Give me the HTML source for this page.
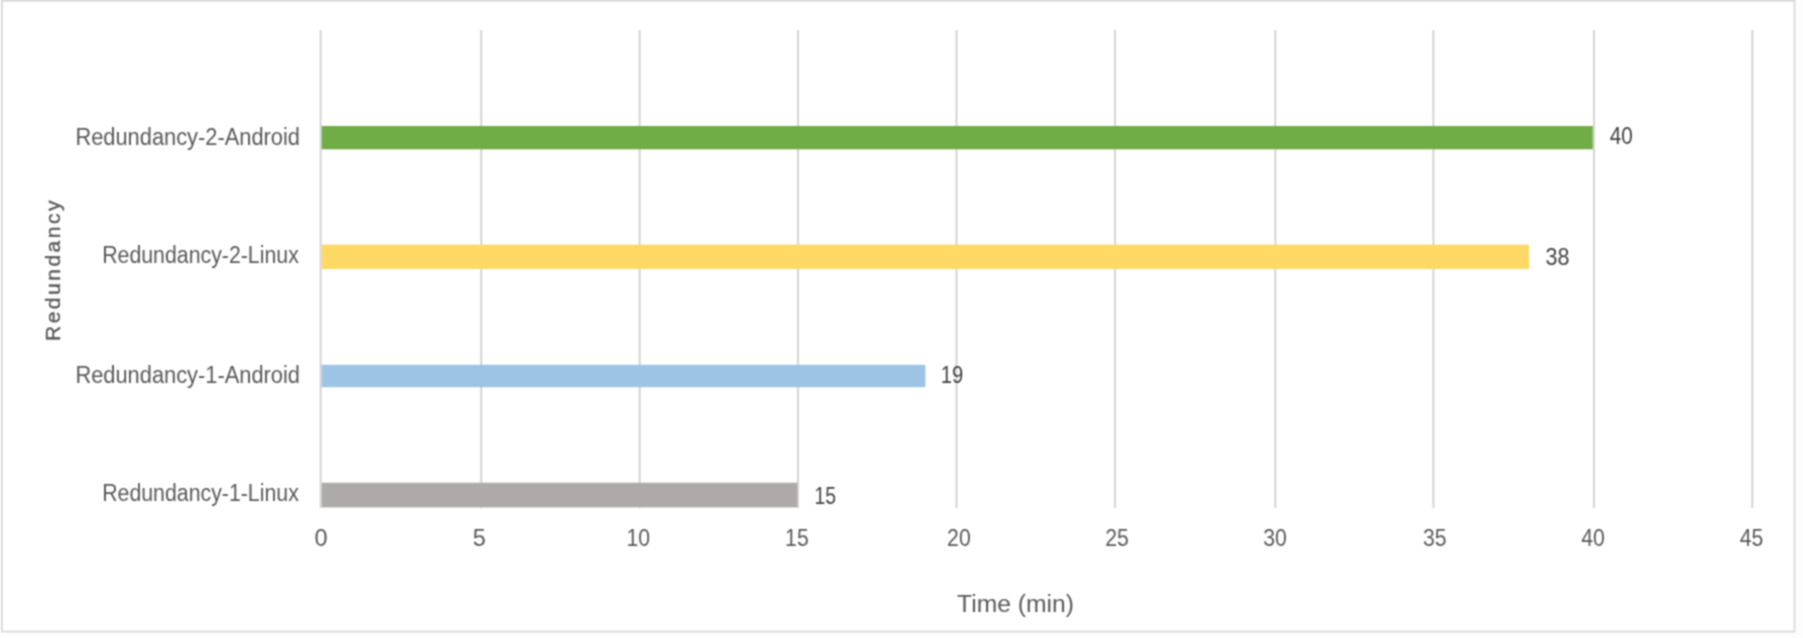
<!DOCTYPE html>
<html><head><meta charset="utf-8"><style>
html,body{margin:0;padding:0;background:#fdfdfd;overflow:hidden;}
svg{display:block;}
text{font-family:"Liberation Sans",sans-serif;font-size:23.5px;}
</style></head><body>
<svg width="1803" height="638" viewBox="0 0 1803 638">
<defs><filter id="b" filterUnits="userSpaceOnUse" x="0" y="0" width="1803" height="638" color-interpolation-filters="sRGB"><feConvolveMatrix order="3" kernelMatrix="0.0625 0.125 0.0625 0.125 0.25 0.125 0.0625 0.125 0.0625" preserveAlpha="true" edgeMode="duplicate"/></filter></defs>
<g filter="url(#b)">
<rect x="0" y="0" width="1803" height="638" fill="#fdfdfd"/>
<rect x="2" y="0.8" width="1792.5" height="630.8" fill="#fff" stroke="#d9d9d9" stroke-width="1.8"/>
<g stroke="#d2d2d2" stroke-width="1.9"><line x1="320.65" y1="30.0" x2="320.65" y2="508.1"/><line x1="481.2" y1="30.0" x2="481.2" y2="508.1"/><line x1="639.65" y1="30.0" x2="639.65" y2="508.1"/><line x1="798.0" y1="30.0" x2="798.0" y2="508.1"/><line x1="956.5" y1="30.0" x2="956.5" y2="508.1"/><line x1="1115.0" y1="30.0" x2="1115.0" y2="508.1"/><line x1="1275.3" y1="30.0" x2="1275.3" y2="508.1"/><line x1="1433.4" y1="30.0" x2="1433.4" y2="508.1"/><line x1="1594.0" y1="30.0" x2="1594.0" y2="508.1"/><line x1="1752.35" y1="30.0" x2="1752.35" y2="508.1"/></g>
<g><rect x="321.6" y="126.0" width="1271.20" height="23.30" fill="#70AD47"/><rect x="321.6" y="244.6" width="1207.50" height="24.50" fill="#FFD966"/><rect x="321.6" y="364.8" width="603.80" height="22.40" fill="#9DC3E6"/><rect x="321.6" y="482.7" width="475.70" height="24.70" fill="#AEAAAA"/></g>
<g fill="#595959"><text x="75.40" y="144.70" textLength="224.60" lengthAdjust="spacingAndGlyphs">Redundancy-2-Android</text><text x="102.20" y="262.70" textLength="196.60" lengthAdjust="spacingAndGlyphs">Redundancy-2-Linux</text><text x="75.40" y="383.30" textLength="224.60" lengthAdjust="spacingAndGlyphs">Redundancy-1-Android</text><text x="102.20" y="500.60" textLength="196.60" lengthAdjust="spacingAndGlyphs">Redundancy-1-Linux</text></g>
<g fill="#404040"><text x="1609.80" y="144.40" textLength="23.00" lengthAdjust="spacingAndGlyphs">40</text><text x="1545.40" y="265.10" textLength="24.00" lengthAdjust="spacingAndGlyphs">38</text><text x="940.80" y="383.20" textLength="22.50" lengthAdjust="spacingAndGlyphs">19</text><text x="814.40" y="503.50" textLength="21.60" lengthAdjust="spacingAndGlyphs">15</text></g>
<g fill="#595959"><text x="321.00" y="546.00" text-anchor="middle">0</text><text x="479.20" y="546.00" text-anchor="middle">5</text><text x="638.30" y="546.00" text-anchor="middle" textLength="23.60" lengthAdjust="spacingAndGlyphs">10</text><text x="796.90" y="546.00" text-anchor="middle" textLength="23.60" lengthAdjust="spacingAndGlyphs">15</text><text x="958.90" y="546.00" text-anchor="middle" textLength="23.60" lengthAdjust="spacingAndGlyphs">20</text><text x="1117.00" y="546.00" text-anchor="middle" textLength="23.60" lengthAdjust="spacingAndGlyphs">25</text><text x="1275.00" y="546.00" text-anchor="middle" textLength="23.60" lengthAdjust="spacingAndGlyphs">30</text><text x="1434.70" y="546.00" text-anchor="middle" textLength="23.60" lengthAdjust="spacingAndGlyphs">35</text><text x="1593.00" y="546.00" text-anchor="middle" textLength="23.60" lengthAdjust="spacingAndGlyphs">40</text><text x="1751.60" y="546.00" text-anchor="middle" textLength="23.60" lengthAdjust="spacingAndGlyphs">45</text></g>
<g fill="#595959"><text x="957.00" y="611.60" textLength="117.00" lengthAdjust="spacingAndGlyphs">Time (min)</text></g>
<text transform="translate(59.6,341.0) rotate(-90)" x="0" y="0" style="font-size:21px;letter-spacing:2.5px" fill="#595959" stroke="#595959" stroke-width="0.4">Redundancy</text>
</g>
</svg>
</body></html>
